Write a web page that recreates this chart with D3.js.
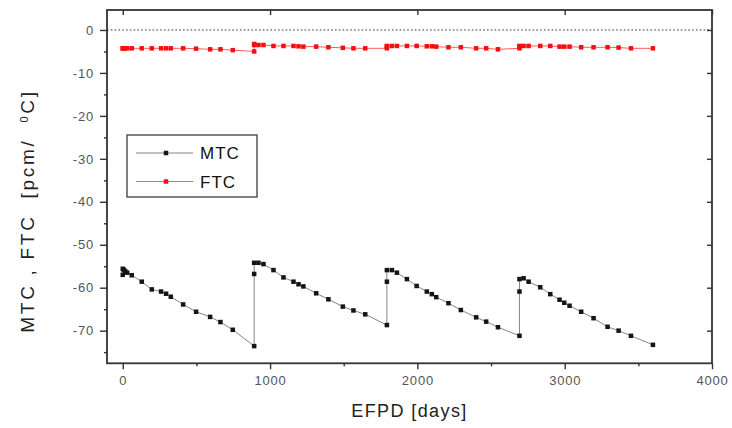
<!DOCTYPE html>
<html>
<head>
<meta charset="utf-8">
<script src="https://cdn.jsdelivr.net/npm/d3@7"></script>
<style>
  html, body { margin: 0; padding: 0; background: #fff; }
  svg { display: block; }
  text { font-family: "Liberation Sans", Arial, sans-serif; }
</style>
</head>
<body>
<svg id="chart" width="732" height="428"></svg>
<script>
// ---------------- data ----------------
const efpd = [0,0,6,16,30,61,129,197,260,294,326,410,498,593,663,747,892,
  892,892,921,955,1023,1091,1159,1193,1226,1313,1396,1494,1566,1646,1793,
  1793,1793,1827,1861,1929,1995,2064,2098,2128,2211,2295,2399,2467,2547,2693,
  2693,2693,2721,2755,2834,2902,2965,2997,3033,3112,3196,3291,3366,3450,3599];

const mtc = [-57.0,-55.6,-55.8,-56.1,-56.5,-57.1,-58.6,-60.4,-60.9,-61.4,-62.1,-63.9,-65.6,-66.8,-68.0,-69.8,-73.6,
  -56.8,-54.2,-54.2,-54.5,-55.9,-57.6,-58.6,-59.2,-59.7,-61.3,-62.7,-64.4,-65.3,-66.2,-68.7,
  -58.6,-55.9,-55.9,-56.5,-58.0,-59.6,-60.9,-61.5,-62.2,-63.6,-65.2,-66.9,-67.9,-69.2,-71.2,
  -60.9,-58.0,-57.8,-58.6,-59.9,-61.5,-62.8,-63.5,-64.2,-65.6,-67.1,-69.1,-70.0,-71.2,-73.3];

const ftc = [-4.27,-4.27,-4.27,-4.27,-4.27,-4.27,-4.27,-4.27,-4.27,-4.27,-4.27,-4.27,-4.35,-4.5,-4.5,-4.7,-5.0,
  -3.5,-3.26,-3.5,-3.5,-3.72,-3.72,-3.72,-3.8,-3.88,-3.88,-4.03,-4.15,-4.27,-4.27,-4.27,
  -3.9,-3.72,-3.72,-3.72,-3.72,-3.72,-3.8,-3.8,-3.88,-4.03,-4.03,-4.27,-4.27,-4.5,-4.27,
  -3.8,-3.72,-3.72,-3.72,-3.72,-3.72,-3.88,-3.88,-3.88,-4.03,-4.03,-4.03,-4.1,-4.27,-4.27];

const seriesNames = ["MTC", "FTC"];
const xTicks = [0, 1000, 2000, 3000, 4000];
const xMinorTicks = [500, 1500, 2500, 3500];
const yTicks = [0, -10, -20, -30, -40, -50, -60, -70];
const yMinorTicks = [-5, -15, -25, -35, -45, -55, -65, -75];
const xTitle = "EFPD [days]";

// ---------------- layout ----------------
const L = 107, R = 712, T = 10, B = 363.3;
const svg = d3.select("#chart");

const x = d3.scaleLinear().domain([-107, 4000]).range([L, R]);
const y = d3.scaleLinear().domain([-77.6, 4.65]).range([B, T]);

const pts = efpd.map((e, i) => ({ e, m: mtc[i], f: ftc[i] }));

// zero dotted line
svg.append("line")
  .attr("x1", L).attr("x2", R)
  .attr("y1", y(0)).attr("y2", y(0))
  .attr("stroke", "#333").attr("stroke-width", 1)
  .attr("stroke-dasharray", "1.6,2.2");

// axes (ticks)
function styleAxis(g) {
  g.select(".domain").remove();
  g.selectAll(".tick line").attr("stroke", "#333").attr("stroke-width", 1.4);
  g.selectAll(".tick text").attr("fill", "#555").style("font-size", "13px").style("letter-spacing", "0.8px");
}
svg.append("g").attr("transform", `translate(0,${B})`)
  .call(d3.axisBottom(x).tickValues(xTicks).tickSize(6).tickPadding(6).tickFormat(d3.format("d")))
  .call(styleAxis);
svg.append("g").attr("transform", `translate(0,${B})`)
  .call(d3.axisBottom(x).tickValues(xMinorTicks).tickSize(3).tickFormat(""))
  .call(styleAxis);
svg.append("g").attr("transform", `translate(${L},0)`)
  .call(d3.axisLeft(y).tickValues(yTicks).tickSize(7).tickPadding(6).tickFormat(d => String(d)))
  .call(styleAxis);
svg.append("g").attr("transform", `translate(${L},0)`)
  .call(d3.axisLeft(y).tickValues(yMinorTicks).tickSize(3).tickFormat(""))
  .call(styleAxis);
// mirror (inward) ticks on top and right
svg.append("g").attr("transform", `translate(0,${T})`)
  .call(d3.axisBottom(x).tickValues(xTicks).tickSize(5).tickFormat(""))
  .call(styleAxis);
svg.append("g").attr("transform", `translate(${R},0)`)
  .call(d3.axisLeft(y).tickValues(yTicks).tickSize(5).tickFormat(""))
  .call(styleAxis);

// frame
svg.append("rect").attr("x", L).attr("y", T).attr("width", R - L).attr("height", B - T)
  .attr("fill", "none").attr("stroke", "#333").attr("stroke-width", 1.8);

// lines
const lineM = d3.line().x(d => x(d.e)).y(d => y(d.m));
const lineF = d3.line().x(d => x(d.e)).y(d => y(d.f));
svg.append("path").datum(pts).attr("d", lineM)
  .attr("fill", "none").attr("stroke", "#777").attr("stroke-width", 0.9);
svg.append("path").datum(pts).attr("d", lineF)
  .attr("fill", "none").attr("stroke", "#ff4a4a").attr("stroke-width", 0.9);

// markers
const ms = 4.5;
svg.append("g").selectAll("rect").data(pts).join("rect")
  .attr("x", d => x(d.e) - ms / 2).attr("y", d => y(d.m) - ms / 2)
  .attr("width", ms).attr("height", ms).attr("fill", "#151515");
svg.append("g").selectAll("rect").data(pts).join("rect")
  .attr("x", d => x(d.e) - ms / 2).attr("y", d => y(d.f) - ms / 2)
  .attr("width", ms).attr("height", ms).attr("fill", "#f21010");

// axis titles
svg.append("text").attr("x", (L + R) / 2).attr("y", 417)
  .attr("text-anchor", "middle").attr("fill", "#222")
  .style("font-size", "18px").style("letter-spacing", "1.4px")
  .text(xTitle);

const yt = svg.append("text")
  .attr("transform", "translate(34,211) rotate(-90)")
  .attr("text-anchor", "middle").attr("fill", "#222")
  .style("font-size", "19px").style("letter-spacing", "2.7px")
  .attr("xml:space", "preserve").style("white-space", "pre");
yt.append("tspan").text("MTC , FTC  [pcm/  ");
yt.append("tspan").attr("dy", -6).style("font-size", "11px").text("0");
yt.append("tspan").attr("dy", 6).text("C]");

// legend
const lg = svg.append("g");
lg.append("rect").attr("x", 127).attr("y", 135).attr("width", 130).attr("height", 62)
  .attr("fill", "#fff").attr("stroke", "#555").attr("stroke-width", 1.5);
const legColors = [{ line: "#777", mark: "#151515" }, { line: "#ff4a4a", mark: "#f21010" }];
seriesNames.forEach((name, i) => {
  const ly = 153 + i * 28.5;
  lg.append("line").attr("x1", 136).attr("x2", 193).attr("y1", ly).attr("y2", ly)
    .attr("stroke", legColors[i].line).attr("stroke-width", 0.9);
  lg.append("rect").attr("x", 166 - ms / 2).attr("y", ly - ms / 2)
    .attr("width", ms).attr("height", ms).attr("fill", legColors[i].mark);
  lg.append("text").attr("x", 200).attr("y", ly + 6)
    .attr("fill", "#111").style("font-size", "17px").style("letter-spacing", "1px")
    .text(name);
});
</script>
</body>
</html>
